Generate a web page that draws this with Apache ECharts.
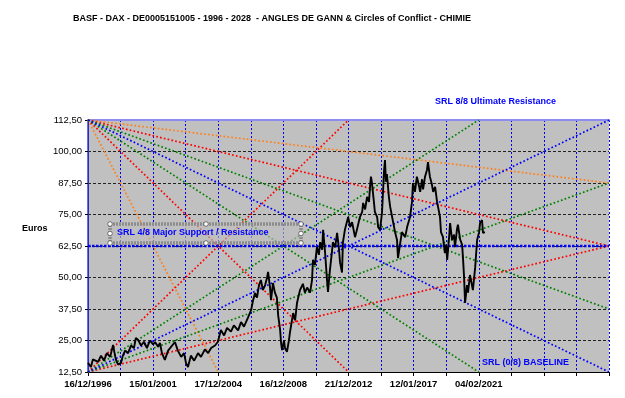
<!DOCTYPE html>
<html>
<head>
<meta charset="utf-8">
<script src="https://cdn.jsdelivr.net/npm/echarts@6/dist/echarts.min.js"></script>
<style>
  html, body { margin: 0; padding: 0; background: #fff; }
  #chart { width: 625px; height: 398px; }
</style>
</head>
<body>
<div id="chart"></div>
<script>
// x is in grid columns (one column ~ two years), y in euros
const xTickLabels = ['16/12/1996', '', '15/01/2001', '', '17/12/2004', '', '16/12/2008', '', '21/12/2012', '', '12/01/2017', '', '04/02/2021', '', '', '', '']
const yTickLabels = ['12,50', '25,00', '37,50', '50,00', '62,50', '75,00', '87,50', '100,00', '112,50']

// cours BASF
const price = [
  [0, 16.1], [0.09, 14.5], [0.15, 17.5], [0.21, 18], [0.31, 16.5], [0.40, 19], [0.49, 17], [0.58, 20], [0.68, 18.5], [0.77, 23.2],
  [0.83, 19], [0.86, 17.3], [0.92, 15.5], [1.01, 16], [1.07, 19], [1.14, 21], [1.23, 20], [1.32, 23], [1.41, 22], [1.47, 26],
  [1.54, 25.2], [1.63, 23], [1.72, 24.5], [1.81, 22], [1.90, 25], [2.00, 23.5], [2.06, 24.4], [2.15, 22.5], [2.21, 24], [2.27, 20],
  [2.36, 17.3], [2.46, 21], [2.55, 22.5], [2.67, 24.4], [2.76, 21], [2.86, 18.5], [2.95, 20], [3.01, 16], [3.07, 14.5], [3.16, 19],
  [3.26, 17], [3.38, 20], [3.47, 18.5], [3.59, 21.5], [3.69, 20], [3.78, 22], [3.90, 23], [3.99, 24.5], [4.08, 29.2], [4.18, 27],
  [4.27, 30], [4.39, 28.5], [4.48, 31], [4.61, 29], [4.70, 32.3], [4.79, 30.5], [4.85, 31], [4.91, 34], [5.01, 37.1], [5.07, 41],
  [5.13, 43.8], [5.19, 42], [5.25, 47], [5.31, 49], [5.37, 45], [5.44, 47], [5.50, 50], [5.53, 52.2], [5.59, 46], [5.62, 41],
  [5.68, 47.8], [5.74, 44], [5.80, 42], [5.84, 35], [5.90, 29.2], [5.93, 24], [5.96, 21.2], [6.02, 25], [6.05, 22], [6.11, 20.5],
  [6.17, 25], [6.20, 28], [6.30, 35.9], [6.36, 33], [6.42, 40], [6.51, 45], [6.60, 47.5], [6.66, 44], [6.73, 46], [6.82, 44],
  [6.88, 49], [6.91, 57], [6.97, 55], [7.03, 62.1], [7.09, 59], [7.13, 64], [7.19, 61], [7.22, 68.9], [7.28, 60], [7.34, 49],
  [7.37, 44.3], [7.43, 53], [7.49, 60], [7.52, 64], [7.59, 62], [7.65, 67.7], [7.71, 61], [7.74, 56], [7.80, 52], [7.83, 64],
  [7.89, 69], [7.99, 74], [8.05, 70], [8.11, 72], [8.20, 66], [8.26, 69], [8.35, 74], [8.42, 76], [8.45, 79.6], [8.51, 77],
  [8.57, 82], [8.63, 80], [8.66, 85.9], [8.69, 90], [8.72, 87.5], [8.78, 80], [8.81, 76], [8.88, 74], [8.91, 70], [8.97, 68.9],
  [9.03, 76], [9.06, 84], [9.09, 92], [9.12, 96.6], [9.15, 88], [9.18, 91], [9.24, 82], [9.28, 78], [9.34, 74], [9.37, 72],
  [9.43, 68], [9.49, 64.9], [9.52, 57.7], [9.58, 63], [9.64, 68], [9.74, 66], [9.80, 70], [9.89, 74], [9.95, 80], [9.98, 87.5],
  [10.04, 84], [10.10, 90], [10.17, 86], [10.20, 84], [10.26, 89], [10.29, 85], [10.35, 90], [10.41, 92.7], [10.44, 95.8], [10.50, 90],
  [10.56, 87], [10.60, 84], [10.66, 86], [10.72, 80], [10.75, 78], [10.81, 74], [10.84, 68], [10.90, 66.1], [10.96, 59.7], [11.00, 63],
  [11.03, 57], [11.09, 66], [11.12, 71.6], [11.18, 64.9], [11.24, 67], [11.27, 62], [11.33, 69], [11.36, 71], [11.43, 65], [11.49, 63],
  [11.52, 56.9], [11.55, 50], [11.58, 39.9], [11.64, 47], [11.67, 44], [11.73, 51], [11.79, 47], [11.82, 45], [11.89, 54], [11.95, 64.9],
  [12.01, 68], [12.04, 71.6], [12.10, 72.8], [12.13, 67.7], [12.19, 68]
]

// angles de Gann : [depart, arrivee]
const orangeLines = [[[0, 112.5], [4, 12.5]], [[0, 112.5], [16, 87.5]]]
const redLines = [[[0, 112.5], [8, 12.5]], [[0, 112.5], [16, 62.5]], [[0, 12.5], [8, 112.5]], [[0, 12.5], [16, 62.5]]]
const greenLines = [[[0, 112.5], [12, 12.5]], [[0, 112.5], [16, 37.5]], [[0, 12.5], [12, 112.5]], [[0, 12.5], [16, 87.5]]]
const blueLines = [[[0, 112.5], [16, 12.5]], [[0, 12.5], [16, 112.5]]]
const srlMajor = [[0, 62.5], [16, 62.5]]

const gannSeries = (lines, color) =>
  lines.map((pts) => ({
    type: 'line',
    data: pts,
    symbol: 'none',
    silent: true,
    z: 3,
    lineStyle: { color: color, width: 1.7, type: [1.7, 2.2] }
  }))

const chart = echarts.init(document.getElementById('chart'))

const handle = (x, y) => ({
  type: 'circle',
  shape: { cx: x, cy: y, r: 2.3 },
  style: { fill: '#fff', stroke: '#555', lineWidth: 0.8 },
  z: 20
})

const FONT = 'bold 9px Liberation Sans, Arial, sans-serif'

chart.setOption({
  animation: false,
  backgroundColor: '#fff',
  textStyle: { fontFamily: 'Liberation Sans, Arial, sans-serif' },
  title: {
    text: 'BASF - DAX - DE0005151005 - 1996 - 2028  - ANGLES DE GANN & Circles of Conflict - CHIMIE',
    left: 68,
    top: 9,
    textStyle: { fontSize: 9, fontWeight: 'bold', color: '#000' }
  },
  grid: { left: 88, right: 16, top: 120, bottom: 26, show: true, backgroundColor: '#c0c0c0', borderWidth: 0 },
  xAxis: [
    {
      type: 'value',
      min: 0,
      max: 16,
      interval: 1,
      axisLine: { lineStyle: { color: '#000', width: 1 } },
      axisTick: { show: true, length: 4, lineStyle: { color: '#000' } },
      axisLabel: {
        formatter: (v) => xTickLabels[Math.round(v)] || '',
        color: '#000',
        fontWeight: 'bold',
        fontSize: 9.5,
        margin: 7,
        showMaxLabel: true
      },
      splitLine: { show: true, lineStyle: { color: '#0000ff', width: 1, type: [2, 2] } }
    },
    {
      type: 'value',
      position: 'top',
      min: 0,
      max: 16,
      axisLine: { show: true, lineStyle: { color: '#8c8cf0', width: 2 } },
      axisTick: { show: false },
      axisLabel: { show: false },
      splitLine: { show: false }
    }
  ],
  yAxis: [
    {
      type: 'value',
      min: 12.5,
      max: 112.5,
      interval: 12.5,
      axisLine: { show: true, lineStyle: { color: '#000', width: 1 } },
      axisTick: { show: true, length: 3, lineStyle: { color: '#000' } },
      axisLabel: {
        formatter: (v) => yTickLabels[Math.round((v - 12.5) / 12.5)] || '',
        color: '#000',
        fontSize: 9.5,
        margin: 6
      },
      splitLine: { show: true, lineStyle: { color: '#222', width: 1, type: [3, 2] } }
    },
    {
      type: 'value',
      position: 'right',
      min: 12.5,
      max: 112.5,
      axisLine: { show: true, lineStyle: { color: '#3a3af0', width: 1.5 } },
      axisTick: { show: false },
      axisLabel: { show: false },
      splitLine: { show: false }
    }
  ],
  series: [
    ...gannSeries(orangeLines, '#ff7f1a'),
    ...gannSeries(redLines, '#ff0000'),
    ...gannSeries(greenLines, '#008000'),
    ...gannSeries(blueLines, '#0000ff'),
    {
      type: 'line',
      data: srlMajor,
      symbol: 'none',
      silent: true,
      z: 4,
      lineStyle: { color: '#0000ff', width: 2.6, type: [2.5, 1.5] }
    },
    {
      name: 'BASF',
      type: 'line',
      data: price,
      symbol: 'none',
      z: 10,
      lineStyle: { color: '#000', width: 1.9 }
    }
  ],
  graphic: [
    {
      type: 'text',
      left: 22,
      top: 224,
      style: { text: 'Euros', fill: '#000', font: FONT }
    },
    {
      type: 'text',
      left: 435,
      top: 97,
      style: { text: 'SRL 8/8 Ultimate Resistance', fill: '#0000ff', font: FONT }
    },
    {
      type: 'text',
      left: 482,
      top: 358,
      z: 20,
      style: { text: 'SRL (0/8) BASELINE', fill: '#0000ff', font: FONT }
    },
    {
      type: 'rect',
      shape: { x: 110, y: 224, width: 191, height: 19 },
      style: { fill: 'rgba(190,190,190,0.6)', stroke: '#8c8c8c', lineWidth: 3.5, lineDash: [2, 1] },
      z: 15
    },
    {
      type: 'text',
      left: 117,
      top: 228,
      z: 16,
      style: { text: 'SRL 4/8 Major Support / Resistance', fill: '#0000ff', font: FONT }
    },
    handle(110, 224), handle(110, 233.5), handle(110, 243),
    handle(206, 224), handle(206, 243),
    handle(301, 224), handle(301, 233.5), handle(301, 243)
  ]
})
</script>
</body>
</html>
